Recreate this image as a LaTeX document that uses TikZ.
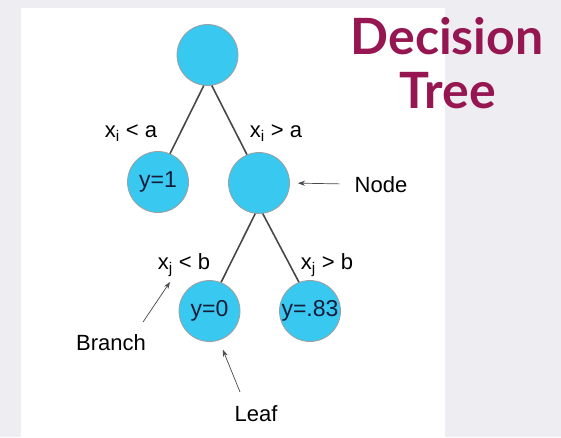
\documentclass[tikz,border=0pt]{standalone}
\usepackage{fontspec}
\setmainfont{Liberation Sans}
\newfontfamily\titlefont{Lato}
\usetikzlibrary{arrows.meta}
\definecolor{SlideGray}{RGB}{238,237,242}
\definecolor{LeafBlue}{RGB}{56,200,240}
\definecolor{TitleRed}{RGB}{150,22,82}
\definecolor{EdgeGray}{RGB}{72,72,72}
\definecolor{InkBlue}{RGB}{22,28,58}

\begin{document}
\begin{tikzpicture}[x=1pt, y=-1pt,
		treenode/.style={circle, draw=gray!75, line width=0.8pt, fill=LeafBlue, minimum size=61pt, inner sep=0pt, text=InkBlue, font=\fontsize{23}{26}\selectfont},
		cond/.style={anchor=base, inner sep=0pt, font=\fontsize{22}{26}\selectfont},
		edge/.style={EdgeGray, line width=1.6pt},
		pointer/.style={-{Stealth[length=7pt, width=5pt]}, EdgeGray, line width=0.7pt},
		heading/.style={TitleRed, anchor=base, font=\titlefont\bfseries\fontsize{50}{54}\selectfont}]
		\fill[SlideGray] (0,0) rectangle (561,437);
		\fill[white] (21,8) rectangle (445,437);
		\node[treenode] (root) at (207.5,55) {};
		\node[treenode] (yone) at (158,182) {y=1};
		\node[treenode] (split) at (259,183) {};
		\node[treenode] (yzero) at (209.5,311) {y=0};
		\node[treenode] (yfrac) at (310,311) {y=.83};
		\draw[edge] (root.-97) -- (yone.67);
		\draw[edge] (root.-82) -- (split.113);
		\draw[edge] (split.-97) -- (yzero.68);
		\draw[edge] (split.-83) -- (yfrac.111);
		\node[cond] (lta) at (131,137) {x\textsubscript{i} < a};
		\node[cond] (gta) at (276,137) {x\textsubscript{i} > a};
		\node[cond] (ltb) at (184,269) {x\textsubscript{j} < b};
		\node[cond] (gtb) at (327,269) {x\textsubscript{j} > b};
		\node[cond] (nodelbl) at (381,192) {Node};
		\node[cond] (branch) at (111,350) {Branch};
		\node[cond] (leaf) at (256,421) {Leaf};
		\coordinate (branchtail) at (143,322);
		\coordinate (branchtip) at (170,282);
		\coordinate (leaftail) at (240,392);
		\draw[pointer, shorten <=15pt, shorten >=8pt] (nodelbl.west) -- (split.east);
		\draw[pointer] (branchtail) -- (branchtip);
		\draw[pointer, shorten >=10pt] (leaftail) -- (yzero.-72);
		\node[heading] (title) at (447,54) {Decision};
		\node[heading] (title2) at (448,108) {Tree};
	\end{tikzpicture}
\end{document}
